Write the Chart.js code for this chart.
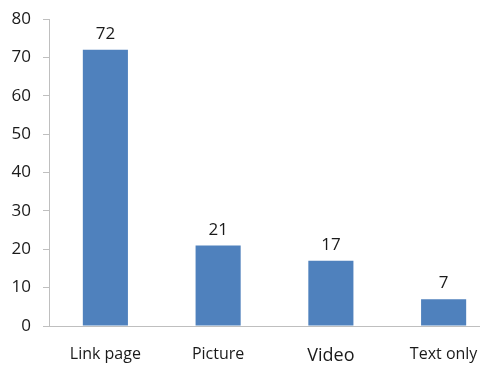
<!DOCTYPE html>
<html>
<head>
<meta charset="utf-8">
<script src="https://cdn.jsdelivr.net/npm/chart.js@4"></script>
<style>
  html, body { margin: 0; padding: 0; overflow: hidden; background: #fff; }
  #wrap { width: 500px; height: 366px; }
</style>
</head>
<body>
<div id="wrap"><canvas id="chart"></canvas></div>
<script>
const CATEGORIES = ["Link page", "Picture", "Video", "Text only"];
const VALUES = [72, 21, 17, 7];
const Y_TICKS = [0, 10, 20, 30, 40, 50, 60, 70, 80];

const COLORS = {
  bar: "#4F81BD",
  axis: "#BFBFBF",
  text: "#1A1A1A",
};

// value labels above each bar
const valueLabels = {
  id: "valueLabels",
  afterDatasetsDraw: (chart) => {
    const { ctx } = chart;
    const meta = chart.getDatasetMeta(0);
    ctx.save();
    ctx.font = "17px 'Open Sans', sans-serif";
    ctx.fillStyle = COLORS.text;
    ctx.textAlign = "center";
    ctx.textBaseline = "bottom";
    meta.data.forEach((bar, i) => {
      ctx.fillText(String(VALUES[i]), bar.x, bar.y - 7);
    });
    ctx.restore();
  },
};

Chart.defaults.font.family = "'Open Sans', sans-serif";
Chart.defaults.color = COLORS.text;

new Chart(document.getElementById("chart"), {
  type: "bar",
  data: {
    labels: CATEGORIES,
    datasets: [{
      data: VALUES,
      backgroundColor: COLORS.bar,
      categoryPercentage: 1,
      barPercentage: 0.4,
    }],
  },
  options: {
    responsive: true,
    maintainAspectRatio: false,
    animation: false,
    layout: { padding: { top: 19, right: 0, left: 0, bottom: 0 } },
    scales: {
      x: {
        grid: { display: false },
        border: { display: true, color: COLORS.axis, width: 1 },
        ticks: {
          padding: 11,
          font: (c) => ({ size: c.index === 2 ? 18 : 16 }),
        },
        afterFit: (scale) => { scale.height = 40; },
      },
      y: {
        min: 0,
        max: 80,
        afterBuildTicks: (scale) => {
          scale.ticks = Y_TICKS.map((v) => ({ value: v }));
        },
        grid: {
          display: true,
          drawOnChartArea: false,
          drawTicks: true,
          tickLength: 6,
          color: COLORS.axis,
        },
        border: { display: true, color: COLORS.axis, width: 1 },
        ticks: { padding: 12, font: { size: 17 } },
        afterFit: (scale) => {
          scale.width = 49;
          scale.paddingTop = 0;
          scale.paddingBottom = 0;
        },
      },
    },
    plugins: {
      legend: { display: false },
      tooltip: { enabled: false },
    },
  },
  plugins: [valueLabels],
});
</script>
</body>
</html>
